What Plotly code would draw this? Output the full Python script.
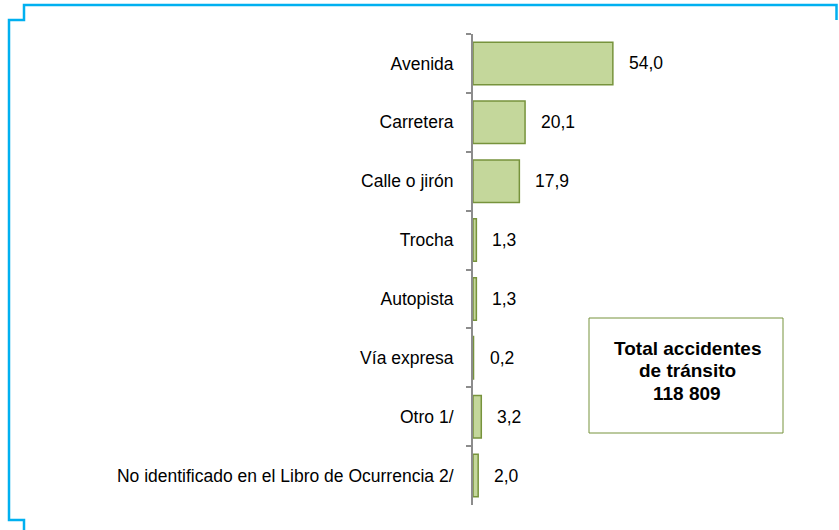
import plotly.graph_objects as go

categories = ["Avenida", "Carretera", "Calle o jirón", "Trocha", "Autopista",
              "Vía expresa", "Otro 1/", "No identificado en el Libro de Ocurrencia 2/"]
values = [54.0, 20.1, 17.9, 1.3, 1.3, 0.2, 3.2, 2.0]
box_lines = ["Total accidentes", "de tránsito", "118 809"]

W, H = 839, 530
L, R, T, B = 473, 107, 34, 25
pw, ph = W - L - R, H - T - B

def px(x):
    return (x - L) / pw

def py(y):
    return (H - B - y) / ph

FONT = "Liberation Sans, Arial"

fig = go.Figure()
fig.add_trace(go.Bar(
    y=categories, x=values, orientation="h",
    marker=dict(color="#c4d79b", line=dict(color="#77933c", width=1.5)),
    hoverinfo="skip",
))

for c, v in zip(categories, values):
    fig.add_annotation(x=v, y=c, xref="x", yref="y", text=f"{v:.1f}".replace(".", ","),
                       showarrow=False, xanchor="left", xshift=14,
                       font=dict(family=FONT, size=17.5, color="#000"))

# frame
frame = (f"M {px(24)},{py(530)} L {px(24)},{py(520)} L {px(9)},{py(520)} L {px(9)},{py(20)} "
         f"L {px(24)},{py(20)} L {px(24)},{py(5)} L {px(836.5)},{py(5)} L {px(836.5)},{py(20)}")
fig.add_shape(type="path", path=frame, xref="paper", yref="paper",
              line=dict(color="#00b0f0", width=2.5))

# total box
fig.add_shape(type="rect", xref="paper", yref="paper",
              x0=px(589), x1=px(783), y0=py(433), y1=py(318),
              line=dict(color="#77933c", width=1), fillcolor="white")
for i, line in enumerate(box_lines):
    fig.add_annotation(xref="paper", yref="paper", x=px(687), y=py(348 + 22.5 * i), text=line,
                       showarrow=False, xanchor="center", yanchor="middle",
                       font=dict(family=FONT, size=19, color="#000", weight="bold"))

fig.update_layout(
    width=W, height=H, margin=dict(l=L, r=R, t=T, b=B),
    paper_bgcolor="white", plot_bgcolor="white",
    showlegend=False, bargap=0.28,
    separators=",.",
    xaxis=dict(range=[0, 100], visible=False, showgrid=False, zeroline=False),
    yaxis=dict(autorange="reversed", showline=True, linecolor="#8c8c8c", linewidth=2,
               ticks="outside", tickson="boundaries", ticklen=5, tickcolor="#8c8c8c",
               tickwidth=2, showgrid=False, ticklabelstandoff=14,
               tickfont=dict(family=FONT, size=17.5, color="#000")),
)

fig.write_html("out.html", config={"displayModeBar": False},
               post_script="document.body.style.margin='0';")
